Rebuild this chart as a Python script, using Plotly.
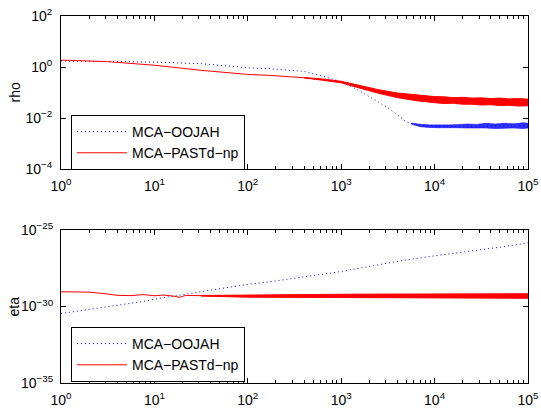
import plotly.graph_objects as go

# ---------------- data (log10 values) ----------------
# top panel: rho
oojah_rho_lx = [0, 0.5, 1.0, 1.5, 2.0, 2.25, 2.6, 2.77, 2.95, 3.13, 3.31, 3.49, 3.63, 3.70, 3.77,
                3.84, 4.0, 4.2, 4.4, 4.6, 4.8, 5.0]
oojah_rho_ly = [0.24, 0.21, 0.19, 0.13, -0.03, -0.07, -0.17, -0.33, -0.52, -0.80, -1.18, -1.57, -1.96,
                -2.16, -2.24, -2.27, -2.32, -2.33, -2.32, -2.31, -2.30, -2.30]
# noisy tail spread of MCA-OOJAH (upper / lower envelope)
oojah_rho_tail_lx = [3.75, 3.85, 3.95, 4.05, 4.15, 4.25, 4.35, 4.45, 4.55, 4.65, 4.75, 4.85, 4.95, 5.0]
oojah_rho_tail_hi = [-2.20, -2.25, -2.27, -2.28, -2.27, -2.26, -2.24, -2.25, -2.21, -2.24, -2.21, -2.23, -2.19, -2.21]
oojah_rho_tail_lo = [-2.24, -2.34, -2.37, -2.38, -2.39, -2.38, -2.39, -2.40, -2.39, -2.41, -2.40, -2.39, -2.41, -2.39]

past_rho_lx = [0, 0.5, 1.0, 1.5, 2.0, 2.24, 2.6, 2.8, 3.0, 3.2, 3.4, 3.6, 3.8, 4.0, 4.2, 4.4, 4.6, 4.8, 5.0]
past_rho_ly = [0.27, 0.21, 0.07, -0.13, -0.29, -0.33, -0.42, -0.49, -0.59, -0.78, -0.96, -1.11, -1.21,
               -1.28, -1.31, -1.34, -1.36, -1.38, -1.40]
# noisy spread of MCA-PASTd-np
past_rho_band_lx = [2.6, 2.8, 3.0, 3.2, 3.4, 3.6, 3.8, 4.0, 4.1, 4.2, 4.3, 4.4, 4.5, 4.6, 4.7, 4.8, 4.9, 5.0]
past_rho_band_hi = [-0.415, -0.47, -0.56, -0.73, -0.89, -1.02, -1.10, -1.16, -1.17, -1.20, -1.19, -1.22,
                    -1.21, -1.24, -1.22, -1.25, -1.24, -1.26]
past_rho_band_lo = [-0.425, -0.52, -0.62, -0.83, -1.03, -1.20, -1.32, -1.40, -1.43, -1.42, -1.46, -1.46,
                    -1.49, -1.48, -1.51, -1.50, -1.53, -1.52]

# bottom panel: eta
oojah_eta_lx = [0, 0.385, 0.88, 1.0, 1.49, 2.0, 2.24, 2.59, 2.95, 3.31, 3.66, 4.02, 4.38, 4.73, 5.0]
oojah_eta_ly = [-30.46, -30.13, -29.67, -29.52, -29.05, -28.55, -28.38, -28.08, -27.76, -27.37, -26.99,
                -26.67, -26.39, -26.10, -25.84]

past_eta_lx = [0, 0.3, 0.45, 0.6, 0.75, 0.88, 1.0, 1.1, 1.2, 1.27, 1.33, 1.5, 2.0, 3.0, 4.0, 5.0]
past_eta_ly = [-29.04, -29.06, -29.15, -29.27, -29.29, -29.22, -29.30, -29.25, -29.32, -29.40, -29.28,
               -29.30, -29.32, -29.32, -29.31, -29.31]
past_eta_band_lx = [1.5, 2.0, 2.5, 3.0, 3.5, 4.0, 4.5, 5.0]
past_eta_band_hi = [-29.28, -29.24, -29.21, -29.20, -29.19, -29.19, -29.18, -29.17]
past_eta_band_lo = [-29.32, -29.39, -29.42, -29.44, -29.44, -29.45, -29.45, -29.46]

# axis ticks
x_tickvals = [1, 10, 100, 1000, 10000, 100000]
x_ticktext = ["10<sup>0</sup>", "10<sup>1</sup>", "10<sup>2</sup>", "10<sup>3</sup>", "10<sup>4</sup>", "10<sup>5</sup>"]
rho_tickvals = [1e-4, 1e-2, 1, 1e2]
rho_ticktext = ["10<sup>−4</sup>", "10<sup>−2</sup>", "10<sup>0</sup>", "10<sup>2</sup>"]
eta_tickvals = [1e-35, 1e-30, 1e-25]
eta_ticktext = ["10<sup>−35</sup>", "10<sup>−30</sup>", "10<sup>−25</sup>"]
y_titles = ["rho", "eta"]

names = ["MCA−OOJAH", "MCA−PASTd−np"]
BLUE = "#0000ff"
RED = "#ff0000"
FONT = "Liberation Sans, Arial, Helvetica, sans-serif"


def p10(vals):
    return [10 ** v for v in vals]


def band(lx, hi, lo):
    xs = p10(lx) + p10(lx[::-1])
    ys = p10(hi) + p10(lo[::-1])
    return xs, ys


fig = go.Figure()

# ---- top panel ----
fig.add_trace(go.Scatter(x=p10(oojah_rho_lx), y=p10(oojah_rho_ly), mode="lines", name=names[0],
                         line=dict(color=BLUE, width=1, dash="1px,3px"), xaxis="x", yaxis="y",
                         legend="legend"))
bx, by = band(oojah_rho_tail_lx, oojah_rho_tail_hi, oojah_rho_tail_lo)
fig.add_trace(go.Scatter(x=bx, y=by, mode="lines", fill="toself", fillcolor="rgba(0,0,255,0.8)",
                         line=dict(color="rgba(0,0,255,0.6)", width=1), showlegend=False,
                         hoverinfo="skip", xaxis="x", yaxis="y"))
fig.add_trace(go.Scatter(x=p10(past_rho_lx), y=p10(past_rho_ly), mode="lines", name=names[1],
                         line=dict(color=RED, width=1), xaxis="x", yaxis="y", legend="legend"))
bx, by = band(past_rho_band_lx, past_rho_band_hi, past_rho_band_lo)
fig.add_trace(go.Scatter(x=bx, y=by, mode="lines", fill="toself", fillcolor=RED,
                         line=dict(color=RED, width=1), showlegend=False,
                         hoverinfo="skip", xaxis="x", yaxis="y"))

# ---- bottom panel ----
fig.add_trace(go.Scatter(x=p10(oojah_eta_lx), y=p10(oojah_eta_ly), mode="lines", name=names[0],
                         line=dict(color=BLUE, width=1, dash="1px,3px"), xaxis="x2", yaxis="y2",
                         legend="legend2"))
fig.add_trace(go.Scatter(x=p10(past_eta_lx), y=p10(past_eta_ly), mode="lines", name=names[1],
                         line=dict(color=RED, width=1), xaxis="x2", yaxis="y2", legend="legend2"))
bx, by = band(past_eta_band_lx, past_eta_band_hi, past_eta_band_lo)
fig.add_trace(go.Scatter(x=bx, y=by, mode="lines", fill="toself", fillcolor=RED,
                         line=dict(color=RED, width=1), showlegend=False,
                         hoverinfo="skip", xaxis="x2", yaxis="y2"))

minor_x = [m * 10 ** d for d in range(5) for m in range(2, 10)]

common_axis = dict(showline=True, linecolor="black", linewidth=1, mirror="ticks", ticks="inside",
                   ticklen=5, tickwidth=1, tickcolor="black", showgrid=False, zeroline=False,
                   automargin=False,
                   tickfont=dict(family=FONT, size=14, color="black"))
xaxis_cfg = dict(common_axis, type="log", range=[0, 5], tickmode="array", tickvals=x_tickvals,
                 ticktext=x_ticktext, ticklabelstandoff=4,
                 minor=dict(tickmode="array", tickvals=minor_x, ticks="inside", ticklen=3,
                            tickcolor="black", showgrid=False))

legend_cfg = dict(x=0.0214, xanchor="left", yanchor="bottom", bgcolor="white",
                  bordercolor="black", borderwidth=1, font=dict(family=FONT, size=14),
                  tracegroupgap=0, itemwidth=50)

fig.update_layout(
    width=541, height=412,
    margin=dict(l=61, r=13, t=16, b=29),
    paper_bgcolor="white", plot_bgcolor="white",
    font=dict(family=FONT, size=14, color="black"),
    xaxis=dict(xaxis_cfg, anchor="y"),
    xaxis2=dict(xaxis_cfg, anchor="y2"),
    yaxis=dict(common_axis, type="log", range=[-4, 2], domain=[0.5831, 1.0], anchor="x",
               tickmode="array", tickvals=rho_tickvals, ticktext=rho_ticktext, ticklabelstandoff=5),
    yaxis2=dict(common_axis, type="log", range=[-35, -25], domain=[0.0, 0.4169], anchor="x2",
                tickmode="array", tickvals=eta_tickvals, ticktext=eta_ticktext, ticklabelstandoff=4),
    legend=dict(legend_cfg, y=0.5804),
    legend2=dict(legend_cfg, y=0.0027),
    showlegend=True,
    annotations=[
        dict(text=y_titles[0], xref="paper", yref="paper", x=0, y=0.7916, xshift=-46,
             textangle=-90, showarrow=False, xanchor="center", yanchor="middle",
             font=dict(family=FONT, size=14, color="black")),
        dict(text=y_titles[1], xref="paper", yref="paper", x=0, y=0.2084, xshift=-47,
             textangle=-90, showarrow=False, xanchor="center", yanchor="middle",
             font=dict(family=FONT, size=14, color="black")),
    ],
)

fig.write_html("out.html", config={"displayModeBar": False},
               post_script="document.body.style.margin='0';document.body.style.overflow='hidden';")
